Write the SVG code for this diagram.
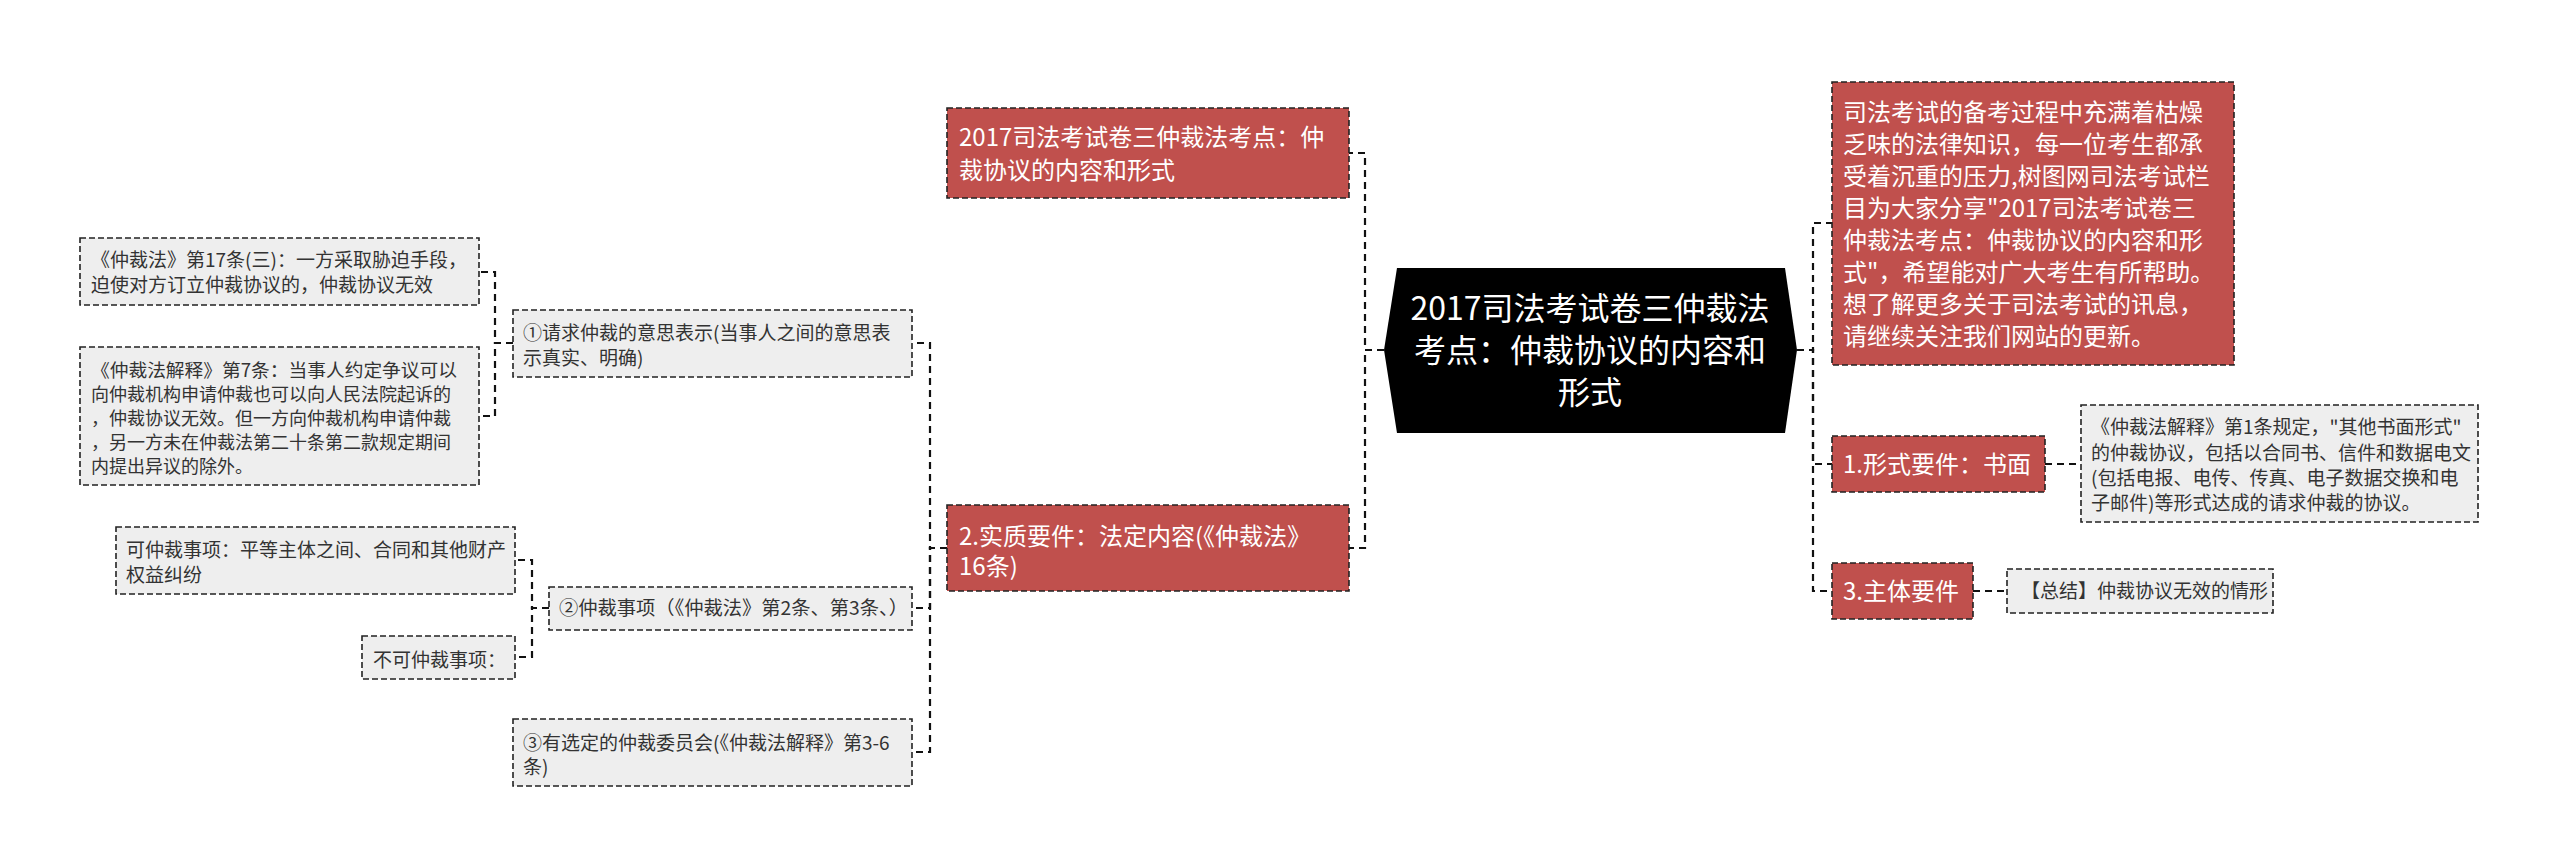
<svg xmlns="http://www.w3.org/2000/svg" width="2560" height="868" viewBox="0 0 2560 868">
<style>
.red{fill:#C0504D;stroke:#222;stroke-width:1.6;stroke-dasharray:6 3}
.gray{fill:#EEEEEE;stroke:#222;stroke-width:1.6;stroke-dasharray:6 3}
.conn path{fill:none;stroke:#111;stroke-width:2.2;stroke-dasharray:7 5}
text{font-family:"Noto Sans CJK SC","Noto Sans",sans-serif}
.tw{fill:#fff;font-size:24px}
.tc{fill:#fff;font-size:32px;text-anchor:middle}
.tg{fill:#333;font-size:19px}
.ts{fill:#333;font-size:18px}
</style>
<rect width="2560" height="868" fill="#fff"/>
<g id="connectors" class="conn">
<path d="M1384 350 H1365 V153 H1349"/>
<path d="M1384 350 H1365 V548 H1349"/>
<path d="M947 548 H930 V343 H912"/>
<path d="M947 548 H930 V608 H912"/>
<path d="M947 548 H930 V752 H912"/>
<path d="M513 343 H495 V272 H479"/>
<path d="M513 343 H495 V416 H479"/>
<path d="M549 608 H532 V560 H515"/>
<path d="M549 608 H532 V657 H515"/>
<path d="M1797 350 H1813 V223 H1832"/>
<path d="M1797 350 H1813 V464 H1832"/>
<path d="M1797 350 H1813 V591 H1832"/>
<path d="M2045 464 H2081"/>
<path d="M1973 591 H2007"/>
</g>
<g id="center">
<polygon points="1397,268 1785,268 1797,350 1785,433 1397,433 1384,350" fill="#000"/>
<text class="tc" x="1590" y="320">2017司法考试卷三仲裁法</text>
<text class="tc" x="1590" y="362">考点：仲裁协议的内容和</text>
<text class="tc" x="1590" y="404">形式</text>
</g>
<g id="n1">
<rect class="red" x="947" y="108" width="402" height="90"/>
<text class="tw" x="959" y="146">2017司法考试卷三仲裁法考点：仲</text>
<text class="tw" x="959" y="179">裁协议的内容和形式</text>
</g>
<g id="n2">
<rect class="red" x="947" y="505" width="402" height="86"/>
<text class="tw" x="959" y="545">2.实质要件：法定内容(《仲裁法》</text>
<text class="tw" x="959" y="575">16条)</text>
</g>
<g id="n2a">
<rect class="gray" x="513" y="310" width="399" height="67"/>
<text class="tg" x="523" y="340">①请求仲裁的意思表示(当事人之间的意思表</text>
<text class="tg" x="523" y="365">示真实、明确)</text>
</g>
<g id="n2a1">
<rect class="gray" x="80" y="238" width="399" height="67"/>
<text class="tg" x="91" y="267">《仲裁法》第17条(三)：一方采取胁迫手段，</text>
<text class="tg" x="91" y="292">迫使对方订立仲裁协议的，仲裁协议无效</text>
</g>
<g id="n2a2">
<rect class="gray" x="80" y="347" width="399" height="138"/>
<text class="ts" x="91" y="377" textLength="366" lengthAdjust="spacingAndGlyphs">《仲裁法解释》第7条：当事人约定争议可以</text>
<text class="ts" x="91" y="401">向仲裁机构申请仲裁也可以向人民法院起诉的</text>
<text class="ts" x="91" y="425">，仲裁协议无效。但一方向仲裁机构申请仲裁</text>
<text class="ts" x="91" y="449">，另一方未在仲裁法第二十条第二款规定期间</text>
<text class="ts" x="91" y="473">内提出异议的除外。</text>
</g>
<g id="n2b">
<rect class="gray" x="549" y="587" width="363" height="43"/>
<text class="tg" x="559" y="615" textLength="349" lengthAdjust="spacingAndGlyphs">②仲裁事项（《仲裁法》第2条、第3条、）</text>
</g>
<g id="n2b1">
<rect class="gray" x="116" y="527" width="399" height="67"/>
<text class="tg" x="126" y="557">可仲裁事项：平等主体之间、合同和其他财产</text>
<text class="tg" x="126" y="582">权益纠纷</text>
</g>
<g id="n2b2">
<rect class="gray" x="362" y="636" width="153" height="43"/>
<text class="tg" x="373" y="667">不可仲裁事项：</text>
</g>
<g id="n2c">
<rect class="gray" x="513" y="719" width="399" height="67"/>
<text class="tg" x="523" y="750">③有选定的仲裁委员会(《仲裁法解释》第3-6</text>
<text class="tg" x="523" y="774">条)</text>
</g>
<g id="r1">
<rect class="red" x="1832" y="82" width="402" height="283"/>
<text class="tw" x="1843" y="121">司法考试的备考过程中充满着枯燥</text>
<text class="tw" x="1843" y="153">乏味的法律知识，每一位考生都承</text>
<text class="tw" x="1843" y="185">受着沉重的压力,树图网司法考试栏</text>
<text class="tw" x="1843" y="217">目为大家分享"2017司法考试卷三</text>
<text class="tw" x="1843" y="249">仲裁法考点：仲裁协议的内容和形</text>
<text class="tw" x="1843" y="281">式"，希望能对广大考生有所帮助。</text>
<text class="tw" x="1843" y="313">想了解更多关于司法考试的讯息，</text>
<text class="tw" x="1843" y="345">请继续关注我们网站的更新。</text>
</g>
<g id="r2">
<rect class="red" x="1832" y="436" width="213" height="56"/>
<text class="tw" x="1843" y="473">1.形式要件：书面</text>
</g>
<g id="r2a">
<rect class="gray" x="2081" y="405" width="397" height="117"/>
<text class="tg" x="2091" y="434">《仲裁法解释》第1条规定，"其他书面形式"</text>
<text class="tg" x="2091" y="460">的仲裁协议，包括以合同书、信件和数据电文</text>
<text class="tg" x="2091" y="485">(包括电报、电传、传真、电子数据交换和电</text>
<text class="tg" x="2091" y="510">子邮件)等形式达成的请求仲裁的协议。</text>
</g>
<g id="r3">
<rect class="red" x="1832" y="563" width="141" height="56"/>
<text class="tw" x="1843" y="600">3.主体要件</text>
</g>
<g id="r3a">
<rect class="gray" x="2007" y="569" width="266" height="44"/>
<text class="tg" x="2021" y="598">【总结】仲裁协议无效的情形</text>
</g>
</svg>
